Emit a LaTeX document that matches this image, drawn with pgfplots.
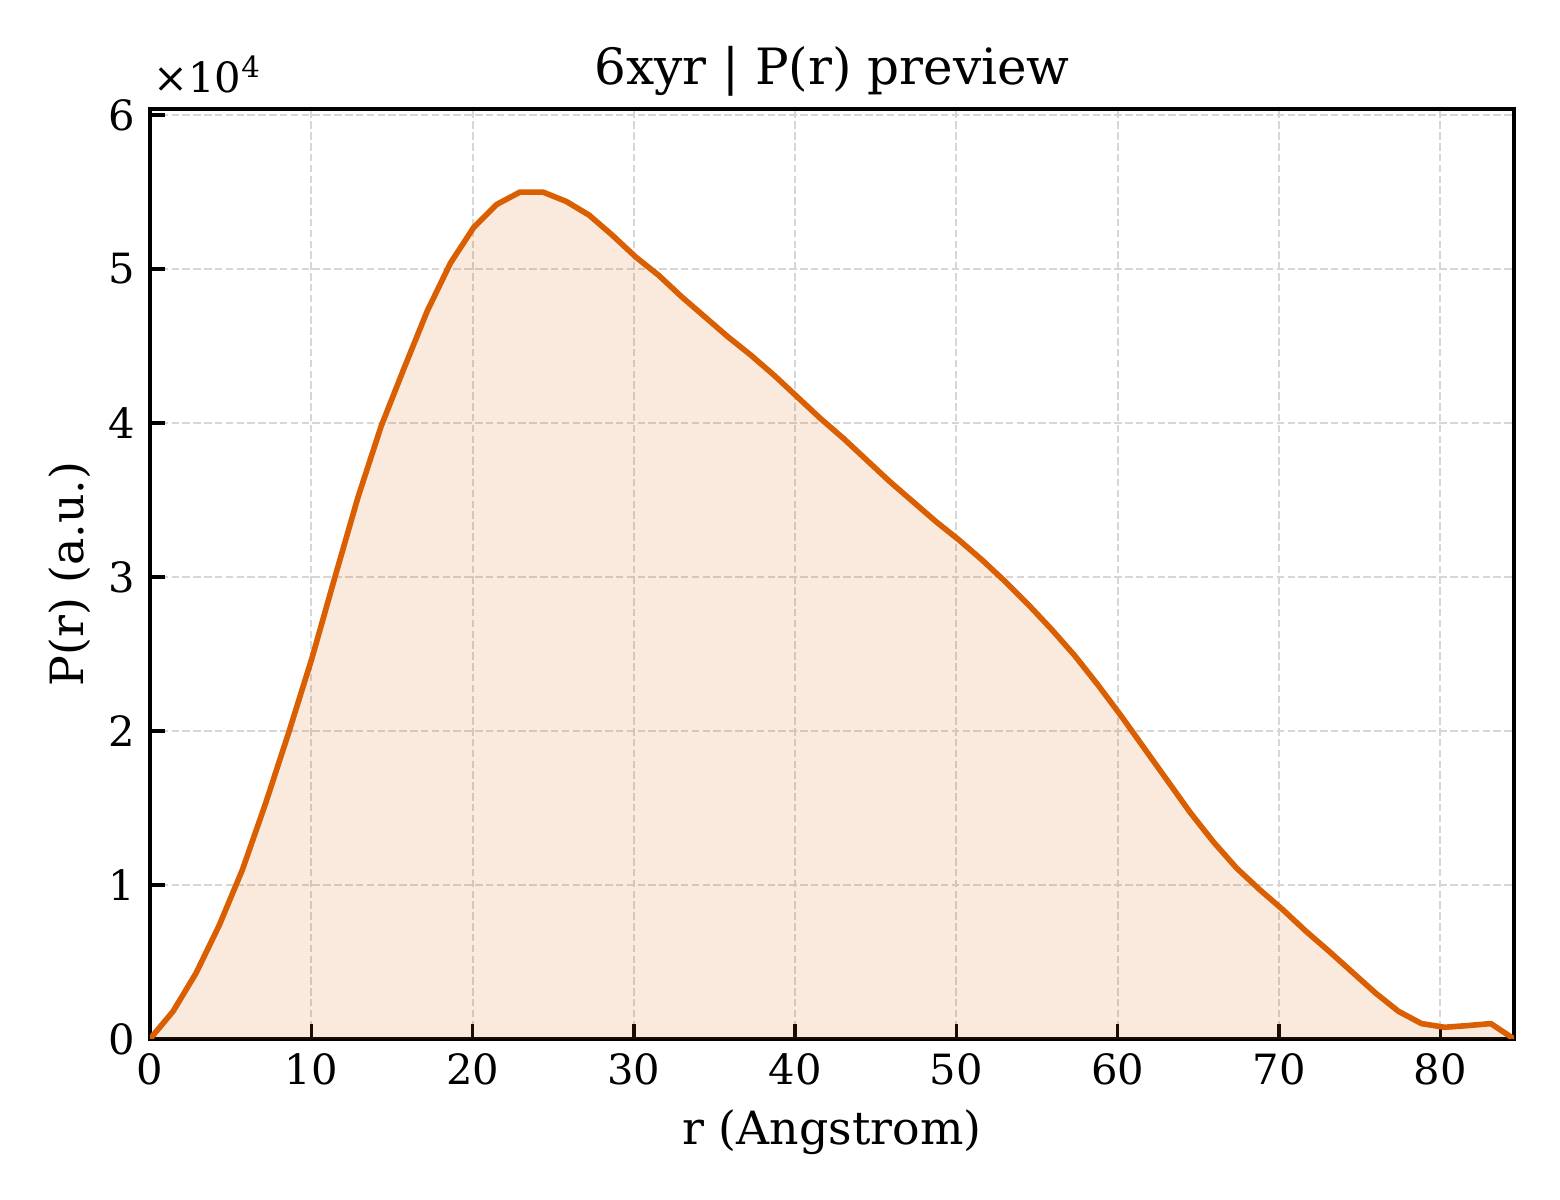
\documentclass[border=0pt]{standalone}
\usepackage{pgfplots}
\pgfplotsset{compat=1.18}
\usepackage{fontspec}
\setmainfont{DejaVu Serif}
\definecolor{prline}{HTML}{D95F02}
\definecolor{gridgray}{HTML}{D6D6D6}

% P(r) values, r in Angstrom
\pgfplotstableread{
r p
0.000 0
1.433 1800
2.867 4300
4.300 7400
5.733 11000
7.167 15300
8.600 19900
10.033 24700
11.467 30000
12.900 35200
14.333 39800
15.767 43600
17.200 47300
18.633 50400
20.067 52700
21.500 54200
22.933 55000
24.367 55000
25.800 54400
27.233 53500
28.667 52200
30.100 50800
31.533 49600
32.967 48200
34.400 46900
35.833 45600
37.267 44400
38.700 43100
40.133 41700
41.567 40300
43.000 39000
44.433 37600
45.867 36200
47.300 34900
48.733 33600
50.167 32400
51.600 31100
53.033 29700
54.467 28200
55.900 26600
57.333 24900
58.767 23000
60.200 21000
61.633 18900
63.067 16800
64.500 14700
65.933 12800
67.367 11100
68.800 9700
70.233 8400
71.667 7000
73.100 5700
74.533 4350
75.967 3000
77.400 1800
78.833 1000
80.267 760
81.700 870
83.133 1000
84.567 0
}\prdata

\begin{document}
\begin{tikzpicture}
\begin{axis}[
  name=ax,
  scale only axis,
  width=327.36pt, height=223.2pt,
  xmin=0, xmax=84.57,
  ymin=0, ymax=60400,
  xtick={0,10,20,30,40,50,60,70,80},
  xticklabels={0,10,20,30,40,50,60,70,80},
  ytick={0,10000,20000,30000,40000,50000,60000},
  yticklabels={0,1,2,3,4,5,6},
  scaled y ticks=false,
  scaled x ticks=false,
  tick pos=left,
  tick align=inside,
  major tick length=3.5pt,
  every tick/.style={black, line width=0.8pt},
  axis line style={line width=0.8pt},
  grid=major,
  major grid style={gridgray, line width=0.5pt, dash pattern=on 1.8pt off 0.8pt},
  ticklabel style={font=\fontsize{10}{12}\selectfont},
  title={6xyr | P(r) preview},
  title style={font=\fontsize{12}{14}\selectfont, at={(rel axis cs:0.5,1)}, anchor=center, yshift=3.1pt},
  xlabel={r (Angstrom)},
  ylabel={P(r) (a.u.)},
  label style={font=\fontsize{11}{13}\selectfont},
  xlabel style={at={(rel axis cs:0.5,0)}, anchor=center, yshift=-22.3pt},
  ylabel style={at={(rel axis cs:0,0.5)}, anchor=center, yshift=19.2pt},
]
\addplot[draw=none, fill=prline, fill opacity=0.13, forget plot] table[x=r, y=p] {\prdata} \closedcycle;
\addplot[prline, line width=1.35pt, line join=round] table[x=r, y=p] {\prdata};
\end{axis}
\node[anchor=base west, font=\fontsize{10}{12}\selectfont, inner sep=0pt]
  at ([xshift=0.6pt, yshift=4.0pt]ax.north west) {×10\textsuperscript{4}};
\path ([xshift=-36pt, yshift=-38.64pt]ax.south west) rectangle ([xshift=11.04pt, yshift=26.16pt]ax.north east);
\end{tikzpicture}
\end{document}
